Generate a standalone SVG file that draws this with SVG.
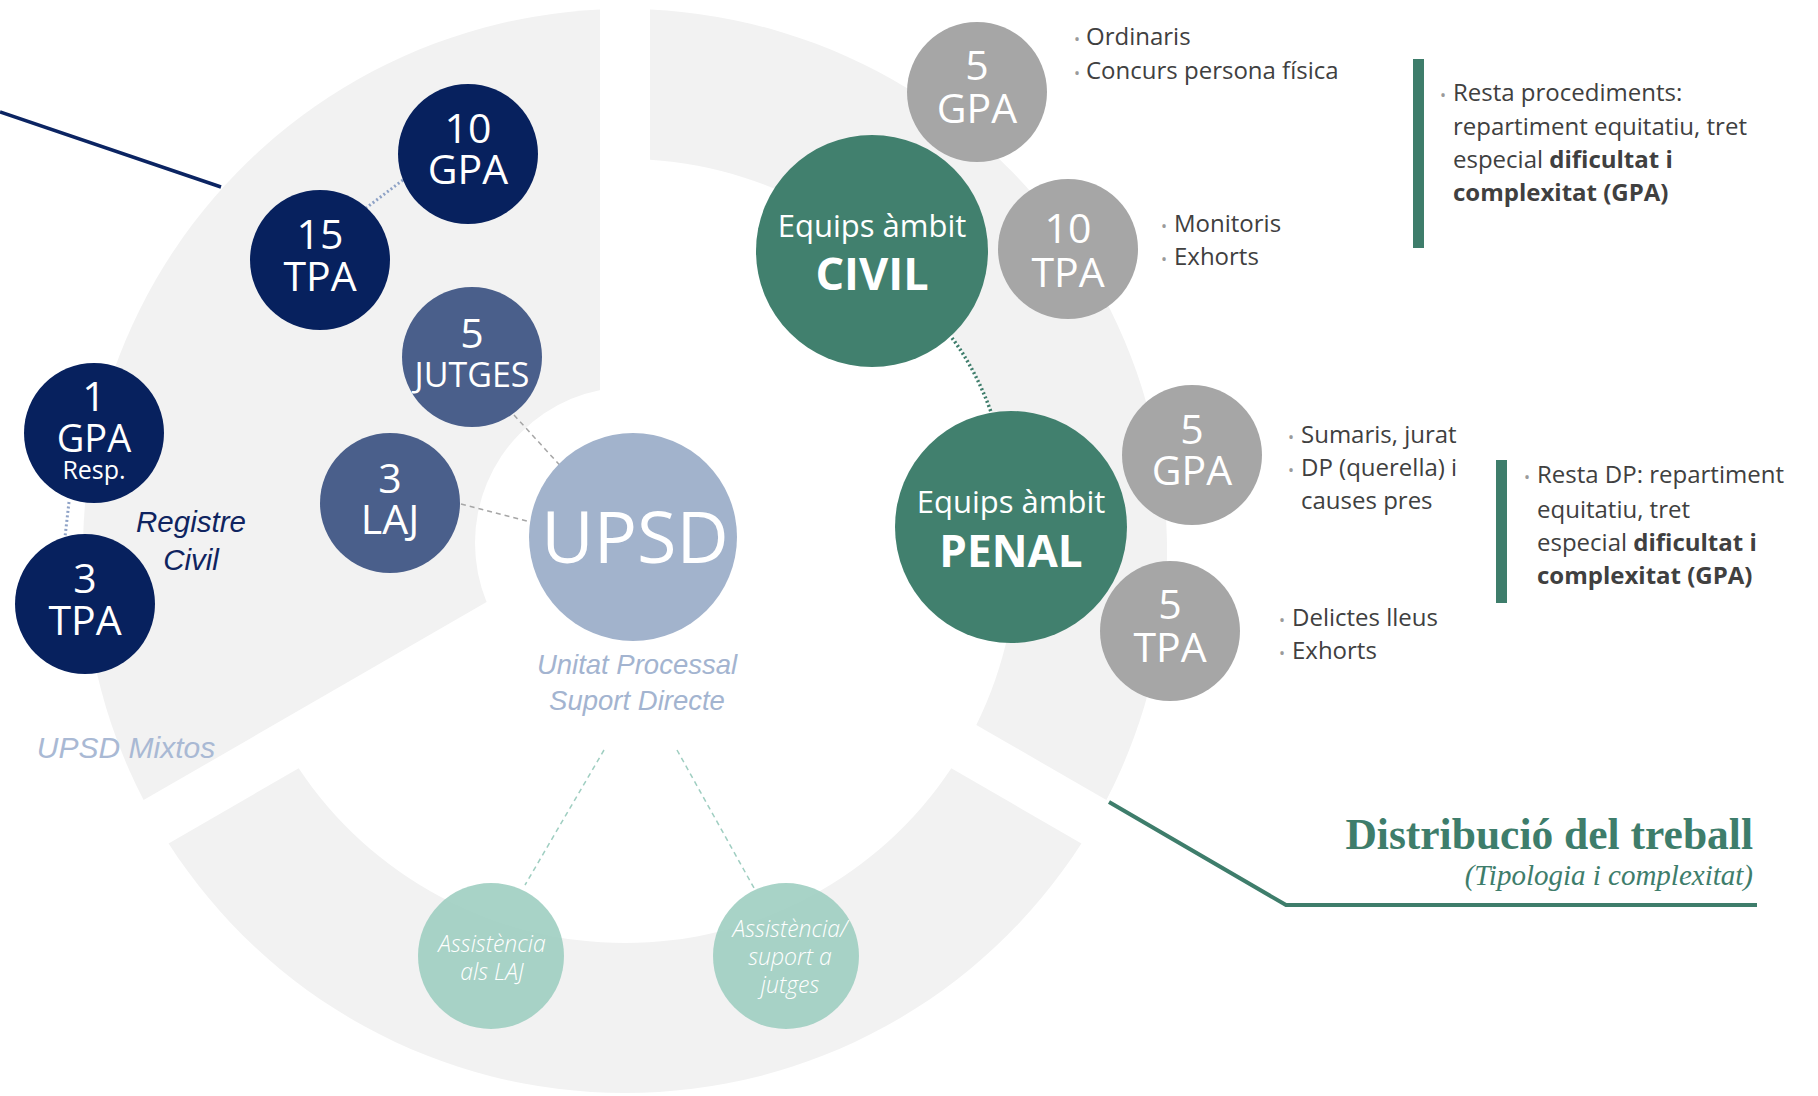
<svg xmlns="http://www.w3.org/2000/svg" width="1818" height="1096" viewBox="0 0 1818 1096">
<style>
.ring{fill:#F2F2F2}
.navy{fill:#07215E}
.mid{fill:#4A5F8B}
.grey{fill:#A6A6A6}
.green{fill:#41806E}
.teal{fill:#9FCEC1;fill-opacity:0.9}
.ct{font-family:"Open Sans","Noto Sans",sans-serif;fill:#FFFFFF;text-anchor:middle}
.side{font-family:"Open Sans","Noto Sans",sans-serif;font-size:24px;fill:#404040}
.bul{font-size:16px;fill:#9A9A9A}
.lbl{font-family:"Liberation Sans",Arial,sans-serif;font-style:italic;text-anchor:middle}
.ast{font-family:"Open Sans","Noto Sans",sans-serif;font-style:italic;font-weight:300;font-size:23px;fill:#FFFFFF;text-anchor:middle}
</style>

<g id="background">
  <path class="ring" d="M 600,9.6 A 542 542 0 0 0 143.6,800.1 L 600,536.6 Z"/>
  <path class="ring" d="M 650,9.6 A 542 542 0 0 1 1106.4,800.1 L 976.3,724.9 A 392 392 0 0 0 650,159.8 Z"/>
  <path class="ring" d="M 1081.4,843.4 A 542 542 0 0 1 168.6,843.4 L 298.7,768.3 A 392 392 0 0 0 951.3,768.3 Z"/>
  <circle cx="631" cy="543" r="156" fill="#FFFFFF"/>
</g>

<g id="connectors" fill="none">
  <line x1="0" y1="112" x2="221" y2="187" stroke="#0B2462" stroke-width="3.5"/>
  <polyline points="1109,802 1286,905 1757,905" stroke="#3E7D6B" stroke-width="4"/>
  <line x1="403" y1="180" x2="366" y2="208" stroke="#8EA2C6" stroke-width="3" stroke-dasharray="2 2.5"/>
  <line x1="69" y1="502" x2="65" y2="537" stroke="#8EA2C6" stroke-width="3" stroke-dasharray="2 2.5"/>
  <line x1="514" y1="415" x2="566" y2="472" stroke="#A6A6A6" stroke-width="1.5" stroke-dasharray="5 4"/>
  <line x1="461" y1="504" x2="538" y2="524" stroke="#A6A6A6" stroke-width="1.5" stroke-dasharray="5 4"/>
  <path d="M 952,338 Q 976,370 991,412" stroke="#3E7D6B" stroke-width="3.5" stroke-dasharray="2 2.5"/>
  <line x1="604" y1="750" x2="525" y2="885" stroke="#9FCEC1" stroke-width="1.5" stroke-dasharray="5 4"/>
  <line x1="677" y1="750" x2="754" y2="888" stroke="#9FCEC1" stroke-width="1.5" stroke-dasharray="5 4"/>
</g>

<g id="bars">
  <rect x="1413" y="59" width="11" height="189" fill="#3E7D6B"/>
  <rect x="1496" y="460" width="11" height="143" fill="#3E7D6B"/>
</g>

<g id="n-10gpa">
  <circle class="navy" cx="468" cy="154" r="70"/>
  <text class="ct" font-size="41"><tspan x="468" y="143">10</tspan><tspan x="468" y="184">GPA</tspan></text>
</g>
<g id="n-15tpa">
  <circle class="navy" cx="320" cy="260" r="70"/>
  <text class="ct" font-size="41"><tspan x="320" y="249">15</tspan><tspan x="320" y="291">TPA</tspan></text>
</g>
<g id="n-5jutges">
  <circle class="mid" cx="472" cy="357" r="70"/>
  <text class="ct" font-size="41"><tspan x="472" y="348">5</tspan><tspan x="472" y="387" font-size="34">JUTGES</tspan></text>
</g>
<g id="n-3laj">
  <circle class="mid" cx="390" cy="503" r="70"/>
  <text class="ct" font-size="41"><tspan x="390" y="493">3</tspan><tspan x="390" y="534">LAJ</tspan></text>
</g>
<g id="n-1gpa">
  <circle class="navy" cx="94" cy="433" r="70"/>
  <text class="ct" font-size="41"><tspan x="94" y="411">1</tspan><tspan x="94" y="452" font-size="38">GPA</tspan><tspan x="94" y="479" font-size="25">Resp.</tspan></text>
</g>
<g id="n-3tpa">
  <circle class="navy" cx="85" cy="604" r="70"/>
  <text class="ct" font-size="41"><tspan x="85" y="593">3</tspan><tspan x="85" y="635">TPA</tspan></text>
</g>
<g id="n-upsd">
  <circle cx="633" cy="537" r="104" fill="#A2B3CC"/>
  <text class="ct" x="635" y="563" font-size="72">UPSD</text>
</g>
<g id="n-civil">
  <circle class="green" cx="872" cy="251" r="116"/>
  <text class="ct"><tspan x="872" y="237" font-size="31">Equips àmbit</tspan><tspan x="872" y="290" font-size="45" font-weight="bold">CIVIL</tspan></text>
</g>
<g id="n-penal">
  <circle class="green" cx="1011" cy="527" r="116"/>
  <text class="ct"><tspan x="1011" y="513" font-size="31">Equips àmbit</tspan><tspan x="1011" y="567" font-size="44" font-weight="bold">PENAL</tspan></text>
</g>
<g id="n-civil-5gpa">
  <circle class="grey" cx="977" cy="92" r="70"/>
  <text class="ct" font-size="41"><tspan x="977" y="80">5</tspan><tspan x="977" y="123">GPA</tspan></text>
</g>
<g id="n-civil-10tpa">
  <circle class="grey" cx="1068" cy="249" r="70"/>
  <text class="ct" font-size="41"><tspan x="1068" y="243">10</tspan><tspan x="1068" y="287">TPA</tspan></text>
</g>
<g id="n-penal-5gpa">
  <circle class="grey" cx="1192" cy="455" r="70"/>
  <text class="ct" font-size="41"><tspan x="1192" y="444">5</tspan><tspan x="1192" y="485">GPA</tspan></text>
</g>
<g id="n-penal-5tpa">
  <circle class="grey" cx="1170" cy="631" r="70"/>
  <text class="ct" font-size="41"><tspan x="1170" y="619">5</tspan><tspan x="1170" y="662">TPA</tspan></text>
</g>
<g id="n-assist-laj">
  <circle class="teal" cx="491" cy="956" r="73"/>
  <text class="ast"><tspan x="492" y="952">Assistència</tspan><tspan x="492" y="980">als LAJ</tspan></text>
</g>
<g id="n-assist-jutges">
  <circle class="teal" cx="786" cy="956" r="73"/>
  <text class="ast"><tspan x="790" y="937">Assistència/</tspan><tspan x="790" y="965">suport a</tspan><tspan x="790" y="993">jutges</tspan></text>
</g>

<g id="labels">
  <text class="lbl" font-size="27.5" fill="#A3B4D0"><tspan x="637" y="674">Unitat Processal</tspan><tspan x="637" y="710">Suport Directe</tspan></text>
  <text class="lbl" x="126" y="758" font-size="30" fill="#A9B9D4">UPSD Mixtos</text>
  <text class="lbl" font-size="29.5" fill="#0F2460"><tspan x="191" y="532">Registre</tspan><tspan x="191" y="570">Civil</tspan></text>
</g>

<g id="notes" class="side">
  <text><tspan class="bul" x="1074" y="45">•</tspan><tspan x="1086" y="45">Ordinaris</tspan><tspan class="bul" x="1074" y="79">•</tspan><tspan x="1086" y="79">Concurs persona física</tspan></text>
  <text><tspan class="bul" x="1161" y="232">•</tspan><tspan x="1174" y="232">Monitoris</tspan><tspan class="bul" x="1161" y="265">•</tspan><tspan x="1174" y="265">Exhorts</tspan></text>
  <text><tspan class="bul" x="1440" y="101">•</tspan><tspan x="1453" y="101">Resta procediments:</tspan><tspan x="1453" y="135">repartiment equitatiu, tret</tspan><tspan x="1453" y="168">especial </tspan><tspan font-weight="bold">dificultat i</tspan><tspan x="1453" y="201" font-weight="bold">complexitat (GPA)</tspan></text>
  <text><tspan class="bul" x="1288" y="443">•</tspan><tspan x="1301" y="443">Sumaris, jurat</tspan><tspan class="bul" x="1288" y="476">•</tspan><tspan x="1301" y="476">DP (querella) i</tspan><tspan x="1301" y="509">causes pres</tspan></text>
  <text><tspan class="bul" x="1279" y="626">•</tspan><tspan x="1292" y="626">Delictes lleus</tspan><tspan class="bul" x="1279" y="659">•</tspan><tspan x="1292" y="659">Exhorts</tspan></text>
  <text><tspan class="bul" x="1524" y="483">•</tspan><tspan x="1537" y="483">Resta DP: repartiment</tspan><tspan x="1537" y="518">equitatiu, tret</tspan><tspan x="1537" y="551">especial </tspan><tspan font-weight="bold">dificultat i</tspan><tspan x="1537" y="584" font-weight="bold">complexitat (GPA)</tspan></text>
</g>

<g id="title" font-family="'Liberation Serif',serif" fill="#3E7D6B" text-anchor="end">
  <text x="1753" y="849" font-size="43.5" font-weight="bold">Distribució del treball</text>
  <text x="1753" y="885" font-size="29" font-style="italic">(Tipologia i complexitat)</text>
</g>
</svg>
